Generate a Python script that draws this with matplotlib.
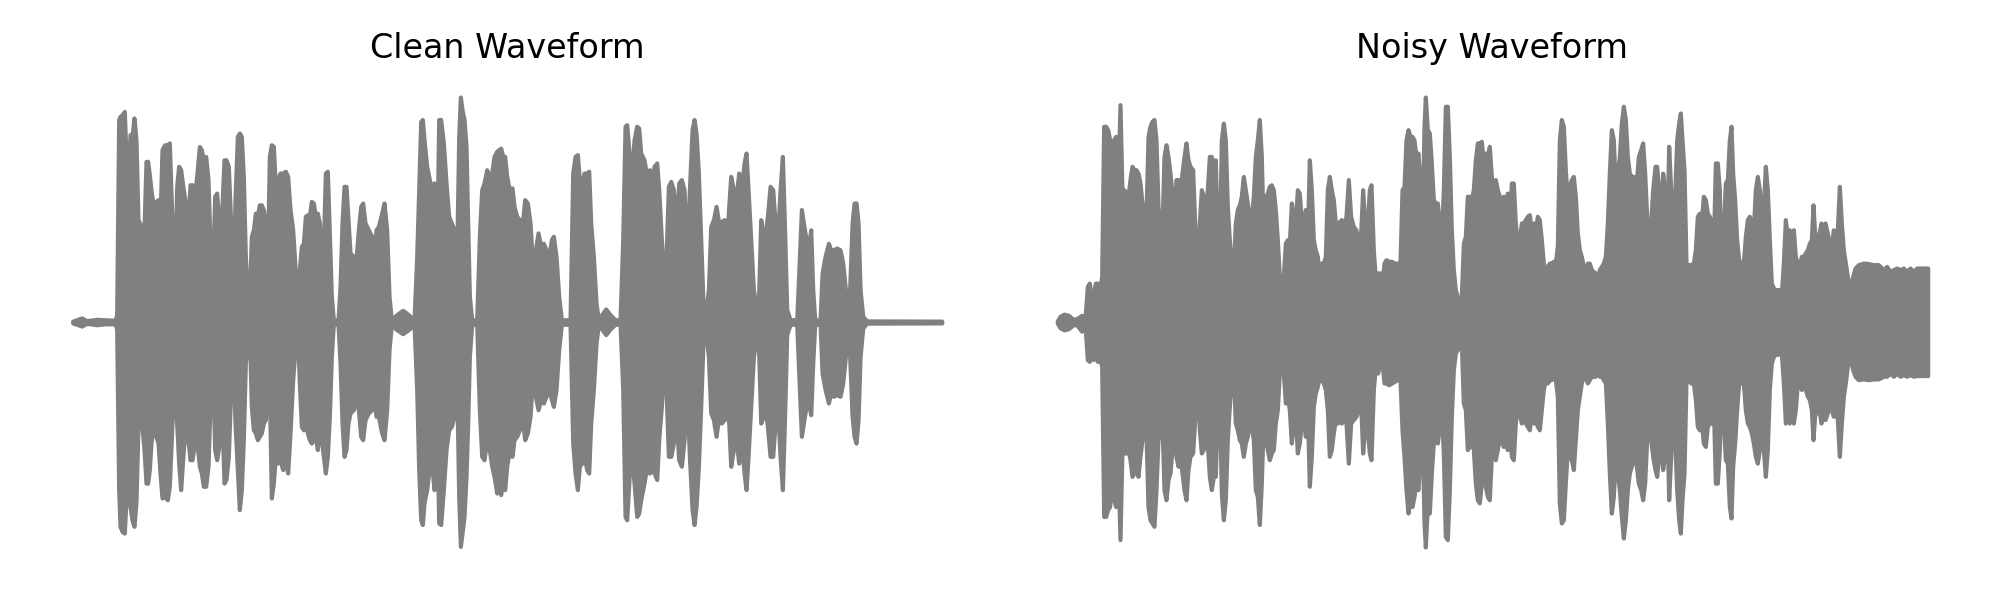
import numpy as np
import matplotlib
matplotlib.use("Agg")
import matplotlib.pyplot as plt

# envelope of each waveform: frame index (600 frames per second), peak above and below zero
clean_frame = [0, 27, 42, 72, 97, 127, 132, 138, 142, 148, 155, 160, 166, 172, 178, 184, 190, 196, 206, 214,
               220, 225, 230, 235, 242, 250, 256, 262, 268, 276, 284, 290, 298, 306, 312, 318, 324, 332, 340, 347,
               352, 358, 364, 372, 380, 386, 392, 399, 406, 414, 420, 426, 432, 440, 447, 454, 460, 467, 474, 480,
               487, 494, 500, 506, 512, 518, 524, 530, 536, 542, 548, 554, 560, 566, 572, 578, 584, 590, 596, 602,
               608, 614, 622, 630, 638, 645, 652, 660, 667, 674, 680, 686, 692, 698, 704, 710, 716, 722, 728, 734,
               740, 746, 752, 758, 764, 770, 776, 782, 796, 802, 808, 814, 820, 826, 832, 842, 850, 857, 864, 870,
               877, 887, 897, 904, 910, 917, 927, 934, 942, 949, 956, 972, 990, 1007, 1024, 1032, 1038, 1044, 1049, 1054,
               1062, 1070, 1077, 1084, 1092, 1098, 1104, 1112, 1120, 1128, 1136, 1144, 1152, 1158, 1163, 1168, 1174, 1180, 1185, 1190,
               1197, 1212, 1220, 1227, 1234, 1242, 1250, 1257, 1264, 1272, 1278, 1284, 1290, 1296, 1302, 1310, 1318, 1324, 1332, 1340,
               1348, 1356, 1364, 1372, 1380, 1388, 1396, 1404, 1412, 1420, 1428, 1436, 1442, 1450, 1458, 1466, 1492, 1500, 1507, 1514,
               1520, 1527, 1534, 1542, 1548, 1554, 1562, 1570, 1577, 1587, 1599, 1612, 1627, 1642, 1650, 1657, 1662, 1670, 1677, 1684,
               1692, 1698, 1704, 1714, 1722, 1730, 1738, 1744, 1752, 1758, 1766, 1774, 1780, 1787, 1794, 1802, 1810, 1818, 1826, 1834,
               1842, 1850, 1858, 1864, 1870, 1877, 1884, 1892, 1900, 1907, 1914, 1922, 1930, 1938, 1946, 1954, 1962, 1968, 1974, 1982,
               1990, 1998, 2006, 2014, 2020, 2026, 2034, 2042, 2050, 2057, 2064, 2072, 2078, 2084, 2092, 2100, 2107, 2114, 2122, 2129,
               2135, 2142, 2152, 2172, 2178, 2186, 2192, 2200, 2207, 2214, 2220, 2226, 2242, 2248, 2257, 2267, 2274, 2282, 2292, 2302,
               2310, 2318, 2324, 2330, 2338, 2344, 2350, 2356, 2362, 2370, 2382, 2607]
clean_upper = [0.004, 0.018, 0.006, 0.012, 0.01, 0.008, 0.03, 0.90, 0.914, 0.921, 0.936, 0.736, 0.618, 0.833, 0.825, 0.907, 0.81, 0.455, 0.425, 0.41,
               0.714, 0.714, 0.655, 0.588, 0.514, 0.536, 0.544, 0.455, 0.766, 0.788, 0.788, 0.796, 0.44, 0.233, 0.603, 0.692, 0.677, 0.588, 0.514, 0.47,
               0.61, 0.61, 0.544, 0.647, 0.78, 0.766, 0.721, 0.736, 0.633, 0.247, 0.247, 0.559, 0.573, 0.41, 0.484, 0.721, 0.721, 0.692, 0.44, 0.114,
               0.544, 0.825, 0.84, 0.825, 0.647, 0.292, 0.10, 0.114, 0.381, 0.41, 0.484, 0.47, 0.521, 0.521, 0.50, 0.44, 0.262, 0.736, 0.788, 0.781,
               0.603, 0.633, 0.662, 0.662, 0.67, 0.647, 0.50, 0.41, 0.247, 0.025, 0.233, 0.336, 0.35, 0.47, 0.477, 0.47, 0.536, 0.529, 0.47, 0.484,
               0.44, 0.292, 0.336, 0.662, 0.67, 0.396, 0.114, 0.01, 0.008, 0.159, 0.44, 0.603, 0.603, 0.455, 0.307, 0.292, 0.28, 0.41, 0.514, 0.529,
               0.44, 0.41, 0.381, 0.321, 0.41, 0.425, 0.484, 0.529, 0.41, 0.114, 0.01, 0.033, 0.052, 0.033, 0.01, 0.292, 0.588, 0.892, 0.90, 0.81,
               0.692, 0.633, 0.588, 0.618, 0.292, 0.90, 0.90, 0.796, 0.618, 0.47, 0.44, 0.41, 0.292, 0.825, 1.0, 0.944, 0.90, 0.781, 0.44, 0.114,
               0.01, 0.01, 0.381, 0.588, 0.618, 0.677, 0.647, 0.662, 0.736, 0.759, 0.766, 0.773, 0.736, 0.736, 0.647, 0.588, 0.596, 0.514, 0.47, 0.455,
               0.425, 0.544, 0.529, 0.44, 0.233, 0.321, 0.396, 0.336, 0.35, 0.321, 0.292, 0.366, 0.381, 0.292, 0.114, 0.01, 0.01, 0.662, 0.736, 0.744,
               0.633, 0.603, 0.662, 0.662, 0.67, 0.44, 0.292, 0.084, 0.01, 0.033, 0.058, 0.033, 0.01, 0.01, 0.366, 0.87, 0.877, 0.736, 0.662, 0.81,
               0.87, 0.862, 0.751, 0.721, 0.647, 0.677, 0.647, 0.692, 0.707, 0.588, 0.366, 0.144, 0.292, 0.603, 0.625, 0.588, 0.41, 0.618, 0.633, 0.588,
               0.292, 0.588, 0.855, 0.90, 0.84, 0.662, 0.366, 0.04, 0.055, 0.144, 0.425, 0.455, 0.514, 0.44, 0.447, 0.455, 0.366, 0.514, 0.647, 0.588,
               0.559, 0.662, 0.588, 0.707, 0.751, 0.588, 0.366, 0.144, 0.07, 0.084, 0.455, 0.381, 0.396, 0.47, 0.603, 0.588, 0.44, 0.366, 0.588, 0.736,
               0.44, 0.055, 0.01, 0.01, 0.218, 0.50, 0.44, 0.366, 0.336, 0.41, 0.144, 0.01, 0.01, 0.218, 0.292, 0.35, 0.321, 0.321, 0.329, 0.321,
               0.262, 0.144, 0.05, 0.114, 0.44, 0.529, 0.529, 0.44, 0.144, 0.025, 0.005, 0.004]
clean_lower = [-0.004, -0.018, -0.006, -0.012, -0.008, -0.008, -0.03, -0.745, -0.908, -0.93, -0.938, -0.79, -0.656, -0.82, -0.88, -0.908, -0.80, -0.464, -0.434, -0.567,
               -0.716, -0.716, -0.656, -0.538, -0.464, -0.508, -0.538, -0.671, -0.782, -0.775, -0.79, -0.73, -0.449, -0.241, -0.449, -0.627, -0.745, -0.567, -0.449, -0.538,
               -0.612, -0.612, -0.553, -0.523, -0.641, -0.671, -0.73, -0.73, -0.641, -0.271, -0.241, -0.567, -0.612, -0.538, -0.39, -0.716, -0.70, -0.597, -0.30, -0.123,
               -0.449, -0.656, -0.834, -0.745, -0.523, -0.182, -0.093, -0.049, -0.375, -0.479, -0.493, -0.523, -0.508, -0.493, -0.449, -0.434, -0.256, -0.30, -0.782, -0.716,
               -0.597, -0.627, -0.612, -0.656, -0.612, -0.671, -0.493, -0.256, -0.123, -0.027, -0.271, -0.464, -0.479, -0.449, -0.493, -0.523, -0.538, -0.523, -0.508, -0.567,
               -0.464, -0.523, -0.597, -0.671, -0.597, -0.419, -0.153, -0.01, -0.008, -0.182, -0.449, -0.597, -0.567, -0.449, -0.404, -0.39, -0.33, -0.39, -0.508, -0.523,
               -0.434, -0.404, -0.39, -0.33, -0.419, -0.419, -0.493, -0.523, -0.39, -0.123, -0.012, -0.034, -0.052, -0.034, -0.012, -0.30, -0.656, -0.879, -0.90, -0.804,
               -0.745, -0.641, -0.641, -0.745, -0.449, -0.893, -0.90, -0.745, -0.567, -0.479, -0.464, -0.419, -0.271, -0.775, -0.997, -0.938, -0.864, -0.686, -0.449, -0.153,
               -0.01, -0.01, -0.39, -0.597, -0.612, -0.523, -0.567, -0.641, -0.686, -0.76, -0.716, -0.767, -0.686, -0.745, -0.641, -0.567, -0.597, -0.523, -0.508, -0.479,
               -0.419, -0.523, -0.493, -0.419, -0.241, -0.33, -0.39, -0.344, -0.36, -0.33, -0.30, -0.344, -0.375, -0.30, -0.123, -0.01, -0.01, -0.538, -0.671, -0.745,
               -0.641, -0.627, -0.597, -0.656, -0.671, -0.449, -0.30, -0.093, -0.012, -0.031, -0.056, -0.031, -0.01, -0.01, -0.30, -0.864, -0.879, -0.671, -0.597, -0.716,
               -0.864, -0.849, -0.79, -0.716, -0.641, -0.671, -0.656, -0.671, -0.70, -0.523, -0.375, -0.153, -0.30, -0.597, -0.597, -0.538, -0.419, -0.612, -0.641, -0.523,
               -0.30, -0.597, -0.834, -0.90, -0.82, -0.641, -0.375, -0.041, -0.056, -0.153, -0.404, -0.434, -0.508, -0.419, -0.449, -0.434, -0.39, -0.449, -0.641, -0.567,
               -0.523, -0.627, -0.523, -0.671, -0.745, -0.597, -0.375, -0.153, -0.079, -0.093, -0.449, -0.419, -0.39, -0.464, -0.597, -0.597, -0.449, -0.375, -0.597, -0.745,
               -0.449, -0.056, -0.01, -0.01, -0.227, -0.508, -0.449, -0.375, -0.36, -0.412, -0.182, -0.01, -0.01, -0.227, -0.30, -0.36, -0.316, -0.33, -0.323, -0.33,
               -0.271, -0.153, -0.093, -0.123, -0.419, -0.508, -0.538, -0.434, -0.153, -0.027, -0.005, -0.004]

noisy_frame = [0, 8, 20, 33, 48, 58, 73, 83, 90, 96, 102, 108, 114, 120, 126, 133, 139, 145, 151, 157,
               163, 169, 175, 181, 188, 194, 200, 206, 212, 218, 224, 230, 236, 242, 248, 254, 260, 266, 272, 278,
               284, 290, 296, 302, 308, 314, 320, 326, 332, 338, 344, 350, 356, 362, 368, 374, 380, 386, 392, 398,
               406, 414, 420, 426, 432, 438, 444, 450, 456, 462, 468, 474, 480, 486, 492, 498, 504, 510, 516, 522,
               528, 534, 540, 546, 552, 558, 564, 570, 576, 582, 588, 594, 600, 606, 612, 618, 624, 630, 636, 642,
               648, 654, 660, 666, 672, 678, 684, 690, 696, 702, 708, 714, 720, 726, 732, 738, 744, 750, 756, 762,
               768, 774, 780, 786, 792, 798, 804, 810, 816, 822, 828, 834, 840, 846, 852, 858, 866, 873, 880, 888,
               896, 903, 910, 916, 923, 930, 936, 941, 948, 955, 961, 968, 974, 980, 986, 994, 1003, 1011, 1020, 1028,
               1034, 1040, 1046, 1052, 1058, 1064, 1070, 1076, 1082, 1088, 1094, 1100, 1104, 1110, 1116, 1122, 1128, 1134, 1140, 1146,
               1152, 1158, 1164, 1170, 1176, 1182, 1188, 1194, 1200, 1206, 1212, 1218, 1224, 1230, 1236, 1242, 1248, 1254, 1260, 1266,
               1272, 1278, 1284, 1290, 1296, 1302, 1308, 1314, 1320, 1326, 1332, 1338, 1344, 1350, 1356, 1362, 1368, 1374, 1380, 1386,
               1392, 1398, 1404, 1410, 1416, 1422, 1428, 1434, 1440, 1446, 1452, 1458, 1464, 1470, 1476, 1482, 1488, 1494, 1500, 1506,
               1512, 1518, 1524, 1530, 1536, 1542, 1548, 1554, 1560, 1566, 1572, 1578, 1584, 1590, 1596, 1602, 1608, 1614, 1620, 1626,
               1632, 1638, 1644, 1650, 1656, 1662, 1668, 1674, 1680, 1686, 1692, 1698, 1704, 1710, 1716, 1722, 1728, 1736, 1743, 1750,
               1756, 1762, 1768, 1774, 1780, 1786, 1793, 1798, 1804, 1810, 1816, 1822, 1828, 1834, 1840, 1846, 1852, 1858, 1864, 1869,
               1874, 1880, 1886, 1893, 1900, 1908, 1914, 1920, 1926, 1932, 1938, 1944, 1950, 1956, 1962, 1968, 1974, 1980, 1986, 1992,
               1998, 2004, 2010, 2016, 2021, 2026, 2032, 2038, 2044, 2050, 2058, 2064, 2070, 2076, 2082, 2088, 2094, 2100, 2106, 2112,
               2118, 2124, 2130, 2136, 2142, 2148, 2154, 2160, 2166, 2172, 2178, 2184, 2190, 2196, 2202, 2208, 2214, 2220, 2226, 2232,
               2238, 2244, 2250, 2256, 2262, 2267, 2273, 2279, 2285, 2291, 2297, 2303, 2310, 2316, 2322, 2328, 2334, 2340, 2346, 2352,
               2358, 2364, 2370, 2378, 2386, 2393, 2403, 2418, 2433, 2448, 2463, 2478, 2488, 2498, 2508, 2518, 2528, 2538, 2548, 2558,
               2568, 2578, 2588, 2598, 2611]
noisy_upper = [0.005, 0.025, 0.035, 0.03, 0.012, 0.015, 0.03, 0.015, 0.159, 0.173, 0.114, 0.114, 0.173, 0.173, 0.129, 0.203, 0.87, 0.87, 0.855, 0.81,
               0.588, 0.81, 0.825, 0.588, 0.966, 0.573, 0.588, 0.573, 0.559, 0.633, 0.692, 0.677, 0.677, 0.662, 0.618, 0.529, 0.484, 0.47, 0.825, 0.87,
               0.892, 0.90, 0.81, 0.514, 0.425, 0.41, 0.736, 0.788, 0.736, 0.662, 0.573, 0.44, 0.633, 0.633, 0.588, 0.662, 0.736, 0.796, 0.721, 0.692,
               0.677, 0.366, 0.262, 0.44, 0.588, 0.559, 0.47, 0.588, 0.736, 0.736, 0.662, 0.721, 0.366, 0.321, 0.81, 0.884, 0.81, 0.514, 0.366, 0.233,
               0.247, 0.44, 0.50, 0.521, 0.559, 0.647, 0.588, 0.529, 0.44, 0.47, 0.559, 0.736, 0.81, 0.90, 0.736, 0.366, 0.559, 0.573, 0.603, 0.61,
               0.588, 0.50, 0.366, 0.203, 0.114, 0.203, 0.35, 0.366, 0.35, 0.529, 0.47, 0.44, 0.588, 0.573, 0.44, 0.44, 0.50, 0.366, 0.721, 0.588,
               0.366, 0.321, 0.292, 0.203, 0.262, 0.262, 0.292, 0.588, 0.647, 0.588, 0.544, 0.44, 0.44, 0.447, 0.455, 0.41, 0.47, 0.633, 0.47, 0.425,
               0.41, 0.336, 0.396, 0.588, 0.41, 0.44, 0.588, 0.61, 0.321, 0.173, 0.218, 0.218, 0.173, 0.262, 0.277, 0.27, 0.27, 0.262, 0.262, 0.262,
               0.588, 0.603, 0.81, 0.855, 0.825, 0.825, 0.81, 0.736, 0.751, 0.618, 0.41, 0.87, 1.0, 0.855, 0.84, 0.707, 0.544, 0.529, 0.529, 0.44,
               0.366, 0.588, 0.959, 0.959, 0.736, 0.41, 0.233, 0.144, 0.114, 0.092, 0.114, 0.35, 0.381, 0.559, 0.559, 0.544, 0.588, 0.721, 0.796, 0.796,
               0.803, 0.707, 0.751, 0.736, 0.781, 0.647, 0.544, 0.633, 0.588, 0.559, 0.514, 0.559, 0.514, 0.573, 0.44, 0.618, 0.618, 0.44, 0.35, 0.366,
               0.44, 0.44, 0.455, 0.47, 0.477, 0.41, 0.44, 0.41, 0.47, 0.455, 0.366, 0.262, 0.233, 0.247, 0.262, 0.262, 0.27, 0.262, 0.336, 0.81,
               0.90, 0.87, 0.677, 0.544, 0.603, 0.633, 0.647, 0.559, 0.396, 0.321, 0.292, 0.247, 0.233, 0.262, 0.262, 0.233, 0.225, 0.218, 0.188, 0.233,
               0.247, 0.262, 0.292, 0.44, 0.662, 0.855, 0.81, 0.588, 0.662, 0.736, 0.884, 0.959, 0.90, 0.736, 0.662, 0.647, 0.647, 0.603, 0.736, 0.766,
               0.796, 0.662, 0.47, 0.35, 0.44, 0.588, 0.692, 0.692, 0.588, 0.44, 0.662, 0.588, 0.381, 0.781, 0.588, 0.292, 0.559, 0.81, 0.884, 0.929,
               0.81, 0.677, 0.262, 0.255, 0.255, 0.262, 0.321, 0.47, 0.484, 0.44, 0.559, 0.544, 0.484, 0.47, 0.44, 0.321, 0.707, 0.707, 0.588, 0.173,
               0.41, 0.618, 0.633, 0.81, 0.87, 0.662, 0.544, 0.366, 0.277, 0.262, 0.262, 0.381, 0.455, 0.47, 0.44, 0.41, 0.588, 0.647, 0.588, 0.47,
               0.514, 0.692, 0.588, 0.366, 0.173, 0.151, 0.144, 0.144, 0.144, 0.129, 0.262, 0.455, 0.381, 0.41, 0.292, 0.41, 0.292, 0.262, 0.247, 0.292,
               0.292, 0.307, 0.321, 0.35, 0.366, 0.521, 0.366, 0.381, 0.396, 0.44, 0.381, 0.44, 0.396, 0.35, 0.336, 0.41, 0.366, 0.41, 0.603, 0.44,
               0.321, 0.262, 0.203, 0.144, 0.203, 0.24, 0.255, 0.262, 0.26, 0.255, 0.255, 0.233, 0.247, 0.225, 0.233, 0.24, 0.233, 0.24, 0.225, 0.24,
               0.225, 0.24, 0.24, 0.24, 0.24]
noisy_lower = [-0.005, -0.025, -0.035, -0.03, -0.012, -0.012, -0.041, -0.015, -0.167, -0.175, -0.138, -0.167, -0.123, -0.175, -0.153, -0.197, -0.864, -0.864, -0.834, -0.82,
               -0.671, -0.79, -0.82, -0.597, -0.967, -0.567, -0.582, -0.582, -0.567, -0.612, -0.686, -0.671, -0.641, -0.686, -0.597, -0.523, -0.464, -0.493, -0.82, -0.879,
               -0.893, -0.908, -0.745, -0.523, -0.464, -0.449, -0.745, -0.79, -0.70, -0.671, -0.567, -0.419, -0.597, -0.641, -0.597, -0.671, -0.745, -0.79, -0.656, -0.597,
               -0.582, -0.39, -0.271, -0.479, -0.582, -0.567, -0.479, -0.538, -0.686, -0.745, -0.686, -0.686, -0.39, -0.316, -0.76, -0.879, -0.79, -0.523, -0.375, -0.227,
               -0.241, -0.449, -0.479, -0.523, -0.538, -0.597, -0.538, -0.508, -0.449, -0.464, -0.523, -0.745, -0.775, -0.90, -0.716, -0.419, -0.523, -0.567, -0.612, -0.582,
               -0.567, -0.449, -0.39, -0.227, -0.093, -0.227, -0.36, -0.33, -0.39, -0.538, -0.449, -0.419, -0.582, -0.538, -0.449, -0.419, -0.508, -0.39, -0.73, -0.597,
               -0.375, -0.316, -0.286, -0.241, -0.256, -0.271, -0.30, -0.39, -0.597, -0.567, -0.493, -0.434, -0.449, -0.434, -0.449, -0.434, -0.449, -0.627, -0.449, -0.434,
               -0.419, -0.39, -0.36, -0.582, -0.449, -0.479, -0.582, -0.612, -0.30, -0.182, -0.227, -0.182, -0.182, -0.271, -0.271, -0.279, -0.271, -0.264, -0.256, -0.256,
               -0.479, -0.597, -0.745, -0.849, -0.79, -0.82, -0.775, -0.716, -0.745, -0.597, -0.449, -0.893, -1.0, -0.82, -0.849, -0.671, -0.538, -0.523, -0.538, -0.464,
               -0.39, -0.582, -0.953, -0.967, -0.745, -0.419, -0.212, -0.138, -0.123, -0.108, -0.093, -0.36, -0.39, -0.567, -0.553, -0.523, -0.567, -0.716, -0.79, -0.804,
               -0.716, -0.686, -0.73, -0.775, -0.79, -0.597, -0.538, -0.612, -0.567, -0.523, -0.523, -0.553, -0.523, -0.567, -0.464, -0.597, -0.612, -0.449, -0.375, -0.404,
               -0.449, -0.434, -0.449, -0.464, -0.479, -0.404, -0.449, -0.434, -0.464, -0.479, -0.39, -0.30, -0.256, -0.271, -0.256, -0.256, -0.249, -0.256, -0.33, -0.804,
               -0.893, -0.879, -0.716, -0.567, -0.597, -0.612, -0.656, -0.523, -0.39, -0.33, -0.271, -0.241, -0.241, -0.271, -0.256, -0.241, -0.241, -0.241, -0.212, -0.241,
               -0.241, -0.256, -0.271, -0.449, -0.671, -0.849, -0.775, -0.597, -0.671, -0.745, -0.864, -0.96, -0.879, -0.745, -0.671, -0.641, -0.612, -0.627, -0.716, -0.745,
               -0.79, -0.716, -0.523, -0.39, -0.523, -0.597, -0.656, -0.686, -0.597, -0.523, -0.656, -0.582, -0.39, -0.79, -0.597, -0.30, -0.523, -0.745, -0.879, -0.938,
               -0.79, -0.671, -0.256, -0.256, -0.271, -0.271, -0.344, -0.464, -0.479, -0.449, -0.538, -0.553, -0.464, -0.449, -0.449, -0.36, -0.716, -0.716, -0.567, -0.197,
               -0.449, -0.612, -0.627, -0.82, -0.871, -0.641, -0.538, -0.39, -0.271, -0.271, -0.271, -0.39, -0.449, -0.464, -0.493, -0.538, -0.597, -0.627, -0.567, -0.523,
               -0.567, -0.686, -0.567, -0.30, -0.182, -0.153, -0.138, -0.145, -0.138, -0.138, -0.271, -0.449, -0.419, -0.449, -0.30, -0.449, -0.39, -0.271, -0.241, -0.30,
               -0.271, -0.30, -0.33, -0.344, -0.39, -0.523, -0.39, -0.404, -0.39, -0.449, -0.39, -0.434, -0.404, -0.36, -0.39, -0.419, -0.375, -0.434, -0.597, -0.449,
               -0.33, -0.271, -0.197, -0.153, -0.212, -0.241, -0.256, -0.253, -0.256, -0.253, -0.253, -0.241, -0.241, -0.227, -0.241, -0.227, -0.241, -0.234, -0.241, -0.234,
               -0.241, -0.238, -0.238, -0.238, -0.238]

titles = ["Clean Waveform", "Noisy Waveform"]
waves = [(clean_frame, clean_upper, clean_lower), (noisy_frame, noisy_upper, noisy_lower)]

fig = plt.figure(figsize=(10, 3), dpi=200)
positions = [[0.0146, 0.0508, 0.478, 0.825], [0.5069, 0.0508, 0.4787, 0.825]]

for pos, title, (frame, upper, lower) in zip(positions, titles, waves):
    ax = fig.add_axes(pos)
    ax.fill_between(frame, lower, upper, color="gray", linewidth=1.5)
    ax.set_ylim(-1.1, 1.1)
    ax.set_title(title, fontsize=12)
    ax.axis("off")

fig.savefig("out.png", dpi=200)
